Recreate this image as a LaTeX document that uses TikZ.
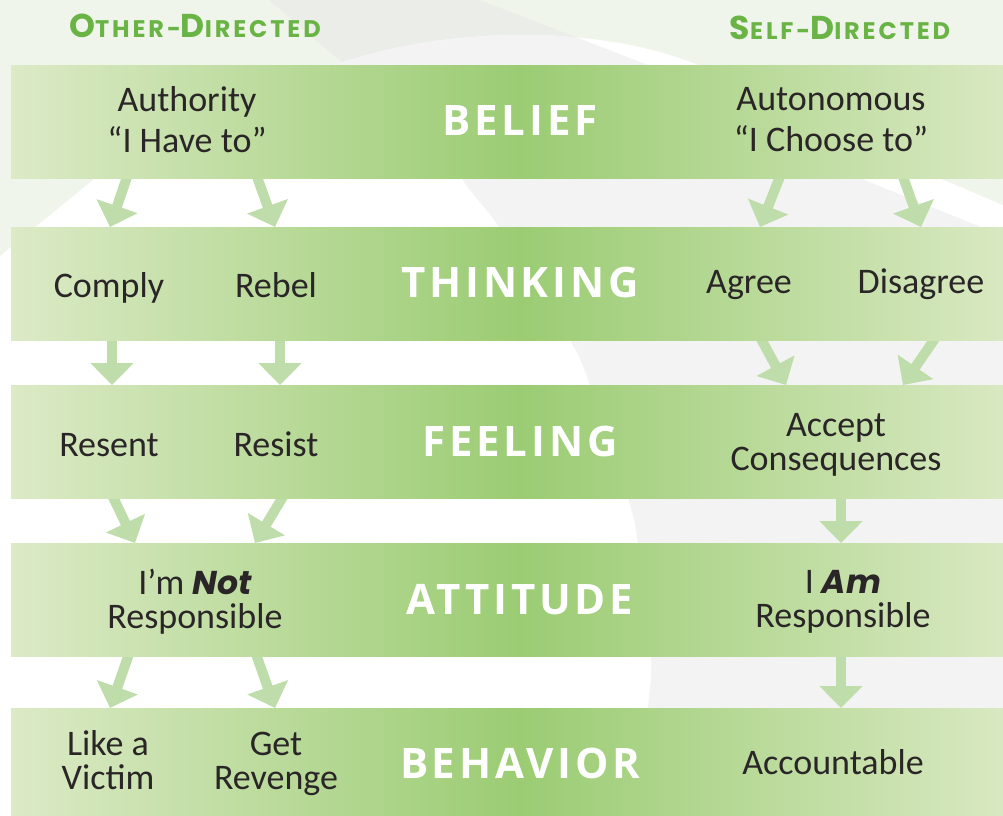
\documentclass[tikz,border=0pt]{standalone}
\usepackage{fontspec}
\setmainfont{Carlito}
\newfontfamily\stagefont[LetterSpace=9]{Open Sans}
\newfontfamily\sidefont[LetterSpace=12]{Poppins}
\newfontfamily\heavyfont{Poppins}
\usetikzlibrary{arrows.meta}
\definecolor{bandmid}{HTML}{9BCC73}
\definecolor{bandedge}{HTML}{DCEAC6}
\definecolor{flowgreen}{HTML}{BEDDAA}
\definecolor{sidegreen}{HTML}{6AB446}
\definecolor{tint}{HTML}{F0F5EC}
\definecolor{wedge}{HTML}{EBEEE8}
\definecolor{swoosh}{HTML}{F3F3F3}
\definecolor{ink}{HTML}{2A2627}
\newcommand{\capword}[2]{{\fontsize{33}{33}\selectfont #1}#2}
\begin{document}
\begin{tikzpicture}[x=1pt,y=-1pt,
    band/.style={left color=bandedge,right color=bandedge,middle color=bandmid},
    word/.style={text=ink,align=center,inner sep=0pt,font=\fontsize{36}{34}\selectfont},
    wordtop/.style={word,font=\fontsize{36}{41}\selectfont},
    stage/.style={text=white,inner sep=0pt,anchor=base,font=\stagefont\bfseries\fontsize{42}{42}\selectfont},
    side/.style={text=sidegreen,inner sep=0pt,anchor=base,font=\sidefont\bfseries\fontsize{24}{24}\selectfont},
    flow/.style={draw=flowgreen,line width=10pt,-{Triangle[width=42pt,length=22pt]}}]
        \useasboundingbox (0,0) rectangle (1003,815);
        \clip (0,0) rectangle (1003,815);
        \fill[white] (0,0) rectangle (1003,815);
        \fill[tint] (0,0) rectangle (1003,65);
        \fill[tint] (0,65) -- (233,65) -- (0,256) -- cycle;
        \fill[tint] (937,177) -- (1003,177) -- (1003,205) -- cycle;
        \fill[wedge] (269,0) -- (480,0) -- (648,65) -- (345,65) -- cycle;
        \fill[white] (334,65) .. controls (450,25) and (600,25) .. (698,65) -- cycle;
        \begin{scope}
            \clip (0,0) -- (480,0) -- (648,65) -- (0,65) -- cycle;
            \fill[swoosh] (334,65) .. controls (450,25) and (600,25) .. (698,65) -- cycle;
        \end{scope}
        \fill[swoosh] plot[smooth] coordinates {(440,120) (461,177) (499,227) (570,340) (590,385)
            (628,498) (638,543) (651,657) (648,708) (640,815)}
            -- (1003,815) -- (1003,236) -- (857,177) -- (857,120) -- cycle;
        \foreach \i/\xs/\ys/\xt/\yt in {1/128/174/110/227, 2/256/174/275/227, 3/781/174/760/227,
            4/902/174/921/227, 5/112/337/112/385, 6/280/337/280/385, 7/760/337/786/385,
            8/936/337/903/385, 9/112/495/135/543, 10/284/495/255/543, 11/841/495/841/543,
            12/129/654/110/708, 13/256/654/275/708, 14/841/654/841/708}{
            \coordinate (s\i) at (\xs,\ys);
            \coordinate (t\i) at (\xt,\yt);
            \draw[flow] (s\i) -- (t\i);
        }
        \foreach \y in {65,227,385,543,708}
            \fill[band] (11,\y) rectangle (1030,\y+113);
        \node[side] (otherdir) at (195,37) {\capword{O}{THER}-\capword{D}{IRECTED}};
        \node[side] (selfdir) at (840,39) {\capword{S}{ELF}-\capword{D}{IRECTED}};
        \node[wordtop] (auth) at (187,120) {Authority\\“I Have to”};
        \node[stage] (belief) at (520,135) {BELIEF};
        \node[wordtop] (auton) at (831,120) {Autonomous\\“I Choose to”};
        \node[word,anchor=base] (comply) at (109,297) {Comply};
        \node[word,anchor=base] (rebel) at (276,297) {Rebel};
        \node[stage] (thinking) at (520,297) {THINKING};
        \node[word,anchor=base] (agree) at (749,293) {Agree};
        \node[word,anchor=base] (disagree) at (921,293) {Disagree};
        \node[word,anchor=base] (resent) at (109,456) {Resent};
        \node[word,anchor=base] (resist) at (276,456) {Resist};
        \node[stage] (feeling) at (520,456) {FEELING};
        \node[word] (accept) at (836,445) {Accept\\Consequences};
        \node[word] (notresp) at (195,602) {I’m {\heavyfont\bfseries\itshape\fontsize{33}{34}\selectfont Not}\\Responsible};
        \node[stage] (attitude) at (520,614) {ATTITUDE};
        \node[word] (amresp) at (843,602) {I {\heavyfont\bfseries\itshape\fontsize{33}{34}\selectfont Am}\\Responsible};
        \node[word] (victim) at (108,760) {Like a\\Victim};
        \node[word] (revenge) at (276,764) {Get\\Revenge};
        \node[stage] (behavior) at (520,778) {BEHAVIOR};
        \node[word,anchor=base] (account) at (833,774) {Accountable};
\end{tikzpicture}
\end{document}
